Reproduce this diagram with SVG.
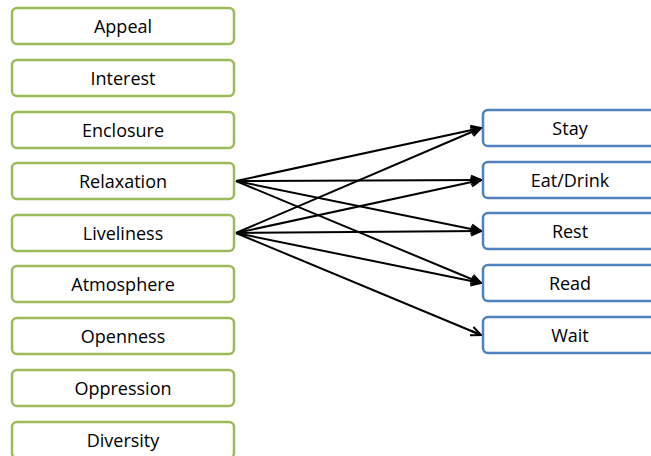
<svg xmlns="http://www.w3.org/2000/svg" width="651" height="456" viewBox="0 0 651 456">
  <defs>
    <marker id="arrow" viewBox="0 0 12 12" refX="11" refY="6" markerWidth="12" markerHeight="12" markerUnits="userSpaceOnUse" orient="auto">
      <path d="M1,1.5 L11,6 L1,10.5 M11,6 L0,6" fill="none" stroke="#000" stroke-width="2" stroke-linejoin="miter"/>
    </marker>
    <style>
      .factor rect { fill: #fff; stroke: #9bbb59; stroke-width: 2.5; }
      .activity rect { fill: #fff; stroke: #4f81bd; stroke-width: 2.5; }
      text { font-family: "Open Sans", "Liberation Sans", sans-serif; font-size: 18px; fill: #000; text-anchor: middle; dominant-baseline: central; }
      .edges line { stroke: #000; stroke-width: 2; marker-end: url(#arrow); }
    </style>
  </defs>
  <rect width="651" height="456" fill="#fff"/>

  <!-- perception factors -->
  <g id="appeal" class="factor"><rect x="12" y="8" width="222" height="36" rx="5"/><text x="123" y="26">Appeal</text></g>
  <g id="interest" class="factor"><rect x="12" y="60" width="222" height="36" rx="5"/><text x="123" y="78">Interest</text></g>
  <g id="enclosure" class="factor"><rect x="12" y="112" width="222" height="36" rx="5"/><text x="123" y="130">Enclosure</text></g>
  <g id="relaxation" class="factor"><rect x="12" y="163" width="222" height="36" rx="5"/><text x="123" y="181">Relaxation</text></g>
  <g id="liveliness" class="factor"><rect x="12" y="215" width="222" height="36" rx="5"/><text x="123" y="233">Liveliness</text></g>
  <g id="atmosphere" class="factor"><rect x="12" y="266" width="222" height="36" rx="5"/><text x="123" y="284">Atmosphere</text></g>
  <g id="openness" class="factor"><rect x="12" y="318" width="222" height="36" rx="5"/><text x="123" y="336">Openness</text></g>
  <g id="oppression" class="factor"><rect x="12" y="370" width="222" height="36" rx="5"/><text x="123" y="388">Oppression</text></g>
  <g id="diversity" class="factor"><rect x="12" y="422" width="222" height="36" rx="5"/><text x="123" y="440">Diversity</text></g>

  <!-- activities -->
  <g id="stay" class="activity"><rect x="483" y="110" width="175" height="36" rx="5"/><text x="570" y="128">Stay</text></g>
  <g id="eat-drink" class="activity"><rect x="483" y="162" width="175" height="36" rx="5"/><text x="570" y="180">Eat/Drink</text></g>
  <g id="rest" class="activity"><rect x="483" y="213" width="175" height="36" rx="5"/><text x="570" y="231">Rest</text></g>
  <g id="read" class="activity"><rect x="483" y="265" width="175" height="36" rx="5"/><text x="570" y="283">Read</text></g>
  <g id="wait" class="activity"><rect x="483" y="317" width="175" height="36" rx="5"/><text x="570" y="335">Wait</text></g>

  <!-- connectors -->
  <g id="connectors" class="edges">
    <line x1="236" y1="181" x2="481" y2="128"/>
    <line x1="236" y1="181" x2="481" y2="180"/>
    <line x1="236" y1="181" x2="481" y2="231"/>
    <line x1="236" y1="181" x2="481" y2="283"/>
    <line x1="236" y1="233" x2="481" y2="128"/>
    <line x1="236" y1="233" x2="481" y2="180"/>
    <line x1="236" y1="233" x2="481" y2="231"/>
    <line x1="236" y1="233" x2="481" y2="283"/>
    <line x1="236" y1="233" x2="481" y2="335"/>
  </g>
</svg>
